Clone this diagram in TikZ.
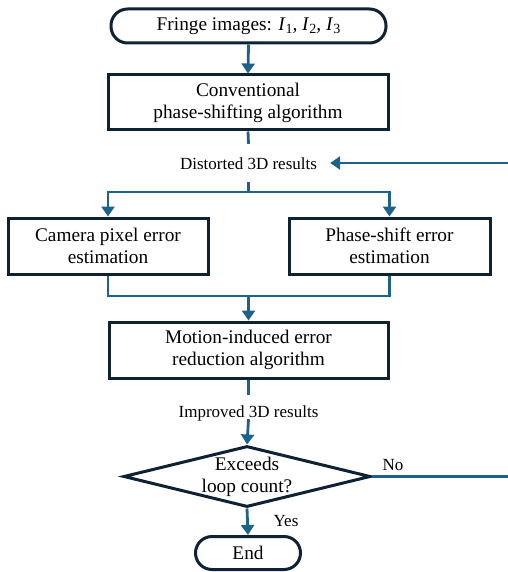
\documentclass[tikz,border=0pt]{standalone}
\usepackage{fontspec}
\setmainfont{Liberation Serif}
\usetikzlibrary{shapes.geometric,arrows.meta}
\definecolor{conn}{HTML}{1D6389}
\definecolor{edge}{HTML}{0E2233}
\tikzset{
  nodebox/.style={draw=edge, line width=3pt, fill=white, align=center,
    font=\fontsize{19.3}{22}\selectfont, inner sep=0pt},
  termbox/.style={nodebox, rounded corners=16.5pt},
  lbl/.style={font=\fontsize{17}{20}\selectfont, inner sep=0pt},
  wire/.style={draw=conn, line width=2.8pt},
  arr/.style={wire, -{Triangle[width=13pt,length=10pt]}},
}
\newcommand{\sbx}[1]{\raisebox{-3pt}{\fontsize{14}{14}\selectfont #1}}
\begin{document}
\begin{tikzpicture}[x=1pt,y=-1pt]
\useasboundingbox (0,0) rectangle (507,572);
\node[termbox, minimum width=275pt, minimum height=34pt] (start) at (248.5,26) {Fringe images: \textit{I}\sbx{1}\textit{, I}\sbx{2}\textit{, I}\sbx{3}};
\node[nodebox, minimum width=280pt, minimum height=55pt] (conv) at (248,102.5) {Conventional\\phase-shifting algorithm};
\node[lbl, anchor=base, text height=25pt, text depth=13pt, inner xsep=13pt] (dist) at (248.5,169) {Distorted 3D results};
\coordinate (split) at (248.5,192);
\node[nodebox, minimum width=200pt, minimum height=56pt] (cam) at (108,246) {Camera pixel error\\estimation};
\node[nodebox, minimum width=201pt, minimum height=56pt] (phs) at (389.5,246) {Phase-shift error\\estimation};
\coordinate (merge) at (248.5,296);
\node[nodebox, minimum width=279pt, minimum height=56pt] (mot) at (248.5,350) {Motion-induced error\\reduction algorithm};
\node[lbl, anchor=base, text height=22pt, text depth=2pt] (impr) at (248.5,417) {Improved 3D results};
\node[draw=edge, line width=3pt, fill=white, diamond, minimum width=247pt, minimum height=61pt, inner sep=0pt,
  label={[font=\fontsize{19.3}{22}\selectfont, align=center]center:Exceeds\\loop count?}] (dia) at (247,476.5) {};
\node[termbox, minimum width=105pt, minimum height=33pt] (fin) at (248,553) {End};
\node[lbl, anchor=base] (no) at (393,470) {No};
\node[lbl, anchor=base] (yes) at (286,526) {Yes};
\coordinate (fbtop) at (510,163);
\coordinate (fbbot) at (510,476.5);

\draw[arr] (start.south) -- (conv.north);
\draw[wire] (conv.south) -- (dist.north);
\draw[wire] (dist.south) -- (split);
\draw[arr] (split) -| (cam.north);
\draw[arr] (split) -| (phs.north);
\draw[wire] (cam.south) |- (merge) -| (phs.south);
\draw[arr] (merge) -- (mot.north);
\draw[wire] (mot.south) -- (impr.north);
\draw[arr] (impr.south) -- (dia.north);
\draw[arr] (dia.south) -- (fin.north);
\draw[wire] (dia.east) -- (fbbot);
\draw[arr] (fbtop) -- (dist.east);
\end{tikzpicture}
\end{document}
